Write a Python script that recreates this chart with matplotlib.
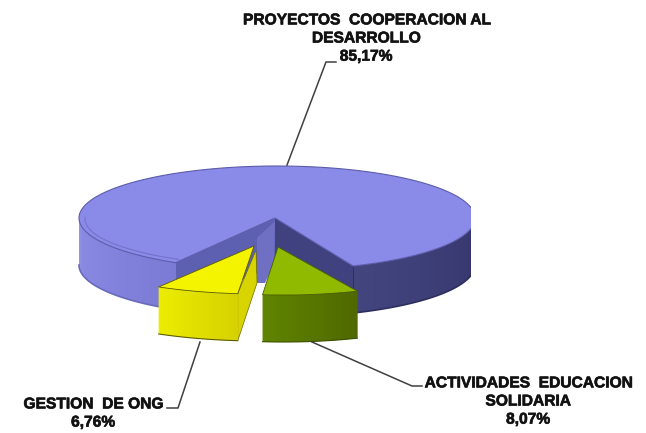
import numpy as np
import matplotlib
matplotlib.use('Agg')
import matplotlib.pyplot as plt
import matplotlib.patheffects as pe
from matplotlib.patches import Polygon, Rectangle
from matplotlib.colors import to_rgb

# datos del grafico
categorias = ['PROYECTOS  COOPERACION AL\nDESARROLLO\n85,17%',
              'ACTIVIDADES  EDUCACION\nSOLIDARIA\n8,07%',
              'GESTION  DE ONG\n6,76%']
valores = [85.17, 8.07, 6.76]

ANG0 = -67.4
DEPTH = 47

plt.rcParams['font.family'] = ['Liberation Sans', 'DejaVu Sans']
fig = plt.figure(figsize=(6.46, 4.33), dpi=100, facecolor='white')
ax = fig.add_axes([0, 0, 1, 1])
ax.set_xlim(0, 646)
ax.set_ylim(433, 0)
ax.axis('off')

clip = Rectangle((0, 0), 471, 433, transform=ax.transData)


def arco(cx, cy, rx, ry, a1, a2, n=80):
    t = np.radians(np.linspace(a1, a2, n))
    return np.c_[cx + rx * np.cos(t), cy - ry * np.sin(t)]


def poly(pts, color, edge='none', lw=0, z=1):
    p = Polygon(pts, closed=True, facecolor=color, edgecolor=edge, linewidth=lw,
                zorder=z, joinstyle='round')
    ax.add_patch(p)
    p.set_clip_path(clip)
    return p


def lateral(cx, cy, rx, ry, a1, a2, c1, c2, z, n=60):
    # cara lateral con degradado; cada trozo pisa al siguiente para que no se vean rayas
    c1, c2 = np.array(to_rgb(c1)), np.array(to_rgb(c2))
    ang = np.linspace(a1, a2, n + 1)
    for i in range(n):
        arc = arco(cx, cy, rx, ry, ang[i], ang[min(i + 2, n)], 5)
        col = c1 + (c2 - c1) * i / (n - 1)
        poly(np.r_[arc, arc[::-1] + [0, DEPTH]], col, z=z)


# angulos de cada porcion a partir de los valores
span = [v / sum(valores) * 360 for v in valores]
a_azul_ini = ANG0
a_azul_fin = ANG0 + span[0]
a_verde_fin = ANG0 - span[1]
a_amar_fin = a_verde_fin - span[2]

# porcion azul
cx, cy, rx, ry = 277, 218, 198, 52
lateral(cx, cy, rx, ry, 180, a_azul_fin, '#8d8de6', '#7b7bd6', 1)
lateral(cx, cy, rx, ry, a_azul_ini, 0, '#43457f', '#34356a', 1)
borde = arco(cx, cy, rx, ry, a_azul_ini, 0)
ax.plot(borde[:, 0], borde[:, 1] + DEPTH, color='#2e2f5e', lw=1.2, zorder=1.5)[0].set_clip_path(clip)
borde = arco(cx, cy, rx, ry, 180, a_azul_fin)
ax.plot(borde[:, 0], borde[:, 1] + DEPTH, color='#6a6aba', lw=1.2, zorder=1.5)

esq_der = arco(cx, cy, rx, ry, a_azul_ini, a_azul_ini, 1)[0]
esq_izq = arco(cx, cy, rx, ry, a_azul_fin, a_azul_fin, 1)[0]
centro = np.array([275, 218])
poly([centro, esq_izq, esq_izq + [0, DEPTH], centro + [0, DEPTH]], '#5d5fb0', z=2)
poly([centro, esq_der, esq_der + [0, DEPTH], centro + [0, DEPTH]], '#40427f', z=2)
ax.plot([esq_der[0], esq_der[0]], [esq_der[1], esq_der[1] + DEPTH], color='#2e2f5e', lw=0.7, zorder=2.05)
# pilar central entre las porciones separadas
poly([centro + [-18, 20], centro + [0, 3], centro + [-1, 46], centro + [-10, 65], centro + [-18, 65]],
     '#6f70c4', z=2.1)
poly(np.r_[[centro], arco(cx, cy, rx, ry, a_azul_ini, a_azul_fin, 300)], '#8a8ae8',
     edge='#5c5cab', lw=0.8, z=3)
# reflejo del borde sobre la cara superior
brillo = arco(cx, cy + 1, rx - 6, ry - 5, 178, a_azul_fin)
ax.plot(brillo[:, 0], brillo[:, 1], color='#7373cc', lw=0.8, zorder=3.1)

# porcion verde
gx, gy, grx, gry = 284, 245, 191, 50
lateral(gx, gy, grx, gry, a_verde_fin, a_azul_ini, '#5f8400', '#4f6800', 4, n=30)
poly(np.r_[[[gx - 6, gy + 2]], arco(gx, gy, grx, gry, a_verde_fin, a_azul_ini, 30)], '#8fba00',
     edge='#4a5c00', lw=0.6, z=5)
arc = arco(gx, gy, grx, gry, a_verde_fin, a_azul_ini, 30)
ax.plot(arc[:, 0], arc[:, 1] + DEPTH, color='#3f5000', lw=0.8, zorder=5)

# porcion amarilla
yx, yy, yrx, yry = 260, 244, 198, 50
der = arco(yx, yy, yrx, yry, a_verde_fin, a_verde_fin, 1)[0]
poly([[yx - 4, yy + 6], der, der + [0, DEPTH], [yx - 3, yy + 39]], '#d8d400', edge='#6c6a00', lw=0.5, z=6)
lateral(yx, yy, yrx, yry, a_amar_fin, a_verde_fin, '#ecec00', '#d6d200', 6, n=30)
poly(np.r_[[[yx - 6, yy + 2]], arco(yx, yy, yrx, yry, a_amar_fin, a_verde_fin, 30)], '#f4f400',
     edge='#5e5c00', lw=0.6, z=7)
arc = arco(yx, yy, yrx, yry, a_amar_fin, a_verde_fin, 30)
ax.plot(arc[:, 0], arc[:, 1] + DEPTH, color='#5e5c00', lw=0.8, zorder=7)

# lineas guia
ax.plot([287, 326, 336], [165, 62, 62], color='#404040', lw=1.1, zorder=8)
ax.plot([312, 412, 422], [342, 386, 386], color='#404040', lw=1.1, zorder=8)
ax.plot([200, 178, 167], [342, 408, 408], color='#404040', lw=1.1, zorder=8)

# etiquetas
efecto = [pe.withStroke(linewidth=0.5, foreground='#222222')]
ax.text(366, 38, categorias[0], ha='center', va='center', fontsize=11.2, weight='bold',
        linespacing=1.26, color='#111111', path_effects=efecto)
ax.text(528, 401, categorias[1], ha='center', va='center', fontsize=11.2, weight='bold',
        linespacing=1.26, color='#111111', path_effects=efecto)
ax.text(93, 413, categorias[2], ha='center', va='center', fontsize=11.2, weight='bold',
        linespacing=1.26, color='#111111', path_effects=efecto)

fig.savefig('out.png', dpi=100, facecolor='white')
